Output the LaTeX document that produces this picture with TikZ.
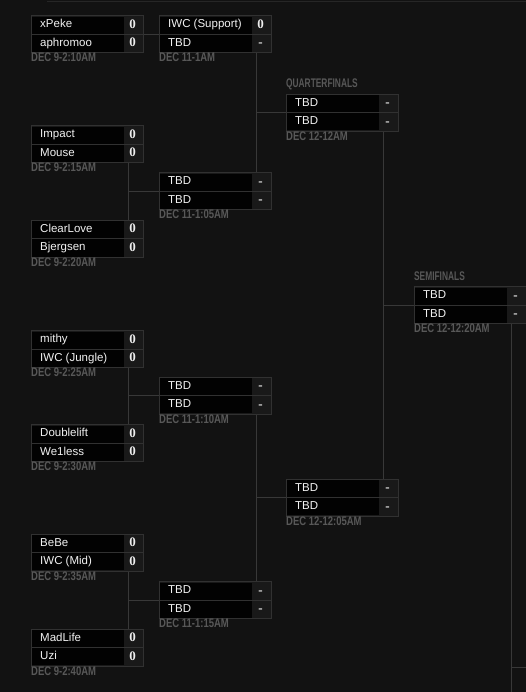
\documentclass[tikz,border=0pt]{standalone}
\usepackage{fontspec}
\setmainfont{Liberation Sans}
\newfontfamily\scorefont{Liberation Serif}
\usetikzlibrary{calc}
\definecolor{bgc}{HTML}{121212}
\definecolor{boxborder}{HTML}{313131}
\definecolor{scorebg}{HTML}{191919}
\definecolor{namebg}{HTML}{020202}
\definecolor{connc}{HTML}{383838}
\definecolor{teamc}{HTML}{F2F2F2}
\definecolor{scorec}{HTML}{EEEEEE}
\definecolor{datec}{HTML}{585858}
\definecolor{topc}{HTML}{262626}
\pgfdeclarelayer{back}
\pgfdeclarelayer{lines}
\pgfsetlayers{back,lines,main}
\tikzset{
  boxn/.style={draw=boxborder, fill=scorebg, line width=1pt, minimum width=112pt, minimum height=37pt, inner sep=0pt, outer sep=0pt},
  namecell/.style={fill=namebg},
  divider/.style={draw=boxborder, line width=1pt},
  team/.style={text=teamc, font=\fontsize{11.5}{13}\selectfont, inner sep=0pt, anchor=base west},
  scorest/.style={text=scorec, font=\scorefont\bfseries\fontsize{13}{15}\selectfont, inner sep=0pt, anchor=base},
  datest/.style={text=datec, font=\bfseries\fontsize{12.5}{14}\selectfont, inner sep=0pt, anchor=base west, xscale=0.76},
  roundlbl/.style={text=datec, font=\bfseries\fontsize{12.5}{14}\selectfont, inner sep=0pt, anchor=base west, xscale=0.67},
  conn/.style={draw=connc, line width=1pt},
  topline/.style={draw=topc, line width=1.5pt}
}
% #1 name, #2 x, #3 y, #4 team1, #5 score1, #6 team2, #7 score2, #8 date
\newcommand{\bmatch}[8]{%
  \node[boxn] (#1) at ({#2+56},{#3+18.5}) {};
  \fill[namecell] ({#2+1},{#3+1}) rectangle ({#2+93},{#3+18});
  \fill[namecell] ({#2+1},{#3+19}) rectangle ({#2+93},{#3+36});
  \draw[divider] ({#2},{#3+18.5}) -- ({#2+112},{#3+18.5});
  \node[team] (#1-n1) at ({#2+9},{#3+12}) {#4};
  \node[team] (#1-n2) at ({#2+9},{#3+30.5}) {#6};
  \node[scorest] (#1-s1) at ({#2+101.5},{#3+12.5}) {#5};
  \node[scorest] (#1-s2) at ({#2+101.5},{#3+31}) {#7};
  \node[datest] (#1-d) at ({#2},{#3+46}) {#8};
  \coordinate (#1-t) at ({#2+97},{#3});
  \coordinate (#1-b) at ({#2+97},{#3+37});
  \coordinate (#1-l) at ({#2},{#3+18.5});
  \coordinate (#1-r) at ({#2+112},{#3+18.5});
}
\begin{document}
\begin{tikzpicture}[x=1pt,y=-1pt]
\begin{pgfonlayer}{back}
\fill[bgc] (0,0) rectangle (526,692);
\end{pgfonlayer}
\useasboundingbox (0,0) rectangle (526,692);
\coordinate (tl1) at (47,1.5);
\coordinate (tl2) at (526,1.5);
\draw[topline] (tl1) -- (tl2);

% Round 1
\bmatch{m1}{31}{16}{xPeke}{0}{aphromoo}{0}{DEC 9-2:10AM}
\bmatch{m2}{31}{126}{Impact}{0}{Mouse}{0}{DEC 9-2:15AM}
\bmatch{m3}{31}{220.5}{ClearLove}{0}{Bjergsen}{0}{DEC 9-2:20AM}
\bmatch{m4}{31}{330.5}{mithy}{0}{IWC (Jungle)}{0}{DEC 9-2:25AM}
\bmatch{m5}{31}{424.5}{Doublelift}{0}{We1less}{0}{DEC 9-2:30AM}
\bmatch{m6}{31}{534}{BeBe}{0}{IWC (Mid)}{0}{DEC 9-2:35AM}
\bmatch{m7}{31}{629}{MadLife}{0}{Uzi}{0}{DEC 9-2:40AM}
% Round 2
\bmatch{r2m1}{159}{16}{IWC (Support)}{0}{TBD}{-}{DEC 11-1AM}
\bmatch{r2m2}{159}{173}{TBD}{-}{TBD}{-}{DEC 11-1:05AM}
\bmatch{r2m3}{159}{377}{TBD}{-}{TBD}{-}{DEC 11-1:10AM}
\bmatch{r2m4}{159}{581.5}{TBD}{-}{TBD}{-}{DEC 11-1:15AM}
% Quarterfinals
\node[roundlbl] (qflabel) at (286,87.5) {QUARTERFINALS};
\bmatch{qf1}{286}{94.5}{TBD}{-}{TBD}{-}{DEC 12-12AM}
\bmatch{qf2}{286}{479}{TBD}{-}{TBD}{-}{DEC 12-12:05AM}
% Semifinals
\node[roundlbl] (sflabel) at (414,280.5) {SEMIFINALS};
\bmatch{sf}{414}{286.5}{TBD}{-}{TBD}{-}{DEC 12-12:20AM}

\coordinate (sfend) at (511,692);
\coordinate (sfj) at (511,667);
\coordinate (sfout) at (526,667);

\begin{pgfonlayer}{lines}
\draw[conn] (m1-r) -- (r2m1-l);
\draw[conn] (m2-b) -- (m3-t);
\draw[conn] (m2-b |- r2m2-l) -- (r2m2-l);
\draw[conn] (m4-b) -- (m5-t);
\draw[conn] (m4-b |- r2m3-l) -- (r2m3-l);
\draw[conn] (m6-b) -- (m7-t);
\draw[conn] (m6-b |- r2m4-l) -- (r2m4-l);
\draw[conn] (r2m1-b) -- (r2m2-t);
\draw[conn] (r2m1-b |- qf1-l) -- (qf1-l);
\draw[conn] (r2m3-b) -- (r2m4-t);
\draw[conn] (r2m3-b |- qf2-l) -- (qf2-l);
\draw[conn] (qf1-b) -- (qf2-t);
\draw[conn] (qf1-b |- sf-l) -- (sf-l);
\draw[conn] (sf-b) -- (sfend);
\draw[conn] (sfj) -- (sfout);
\end{pgfonlayer}
\end{tikzpicture}
\end{document}
